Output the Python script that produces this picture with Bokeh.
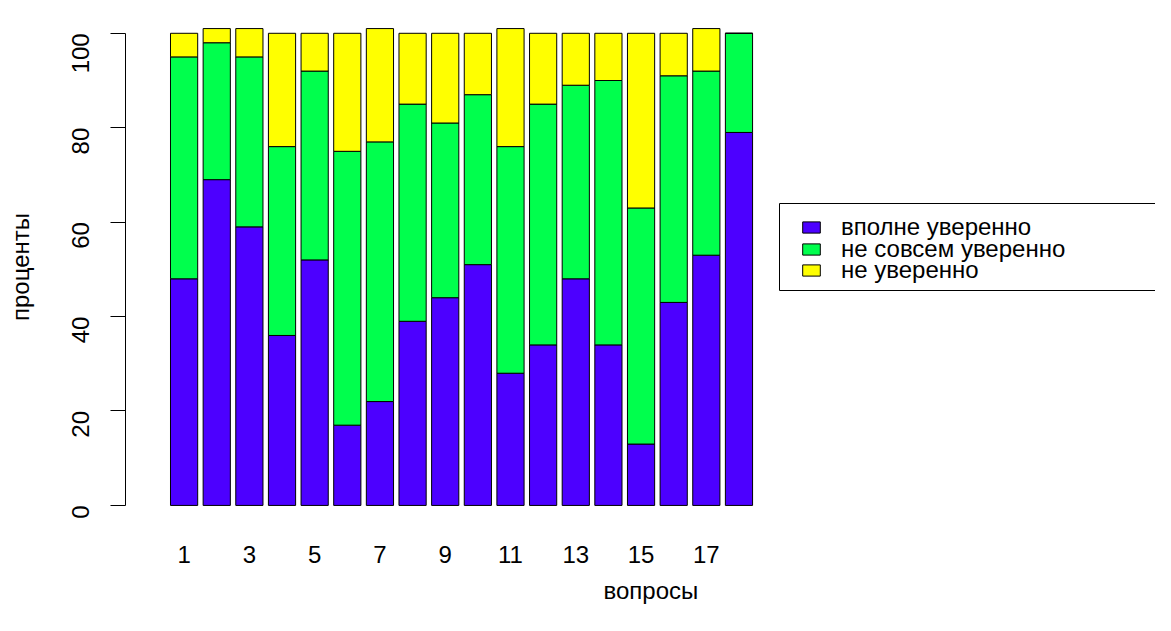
import math
from bokeh.plotting import figure
from bokeh.models import Range1d, FixedTicker, Legend, LegendItem, Title, BoxAnnotation
from bokeh.embed import file_html
from bokeh.resources import INLINE

# ---- data ----
questions = list(range(1, 19))
tick_labels = [1, 3, 5, 7, 9, 11, 13, 15, 17]
series_names = ["вполне уверенно", "не совсем уверенно", "не уверенно"]
fully_sure = [48, 69, 59, 36, 52, 17, 22, 39, 44, 51, 28, 34, 48, 34, 13, 43, 53, 79]
not_quite_sure = [47, 29, 36, 40, 40, 58, 55, 46, 37, 36, 48, 51, 41, 56, 50, 48, 39, 21]
not_sure = [5, 3, 6, 24, 8, 25, 24, 15, 19, 13, 25, 15, 11, 10, 37, 9, 9, 0]
y_ticks = [0, 20, 40, 60, 80, 100]
colors = ["#4C00FF", "#00FF4D", "#FFFF00"]

FONT = "Liberation Sans"

data = dict(q=questions, s1=fully_sure, s2=not_quite_sure, s3=not_sure)

p = figure(width=1155, height=615,
           x_range=Range1d(-0.795, 30.761), y_range=Range1d(-4.04, 105.04),
           output_backend="svg", toolbar_location=None,
           min_border_left=125, min_border_right=0, min_border_top=9, min_border_bottom=91)
p.outline_line_color = None
p.xgrid.visible = False
p.ygrid.visible = False

rs = p.vbar_stack(["s1", "s2", "s3"], x="q", width=1/1.2, source=data,
                  fill_color=colors, line_color="black", line_width=1)

# y axis
ya = p.yaxis[0]
ya.ticker = FixedTicker(ticks=y_ticks)
ya.bounds = (0, 100)
ya.major_tick_out = 15
ya.major_tick_in = 0
ya.minor_tick_line_color = None
ya.axis_line_color = "black"
ya.major_tick_line_color = "black"
ya.major_label_orientation = math.pi / 2
ya.major_label_text_font = FONT
ya.major_label_text_font_size = "24px"
ya.major_label_text_color = "black"
ya.major_label_standoff = 30
ya.axis_label = "проценты"
ya.axis_label_text_font = FONT
ya.axis_label_text_font_size = "24px"
ya.axis_label_text_font_style = "normal"
ya.axis_label_text_color = "black"
ya.axis_label_standoff = 27

# x axis
xa = p.xaxis[0]
xa.ticker = FixedTicker(ticks=tick_labels)
xa.axis_line_color = None
xa.major_tick_line_color = None
xa.minor_tick_line_color = None
xa.major_tick_out = 0
xa.major_tick_in = 0
xa.major_label_text_font = FONT
xa.major_label_text_font_size = "24px"
xa.major_label_text_color = "black"
xa.major_label_standoff = 21

p.add_layout(Title(text="вопросы", align="left", offset=478, standoff=19, text_font=FONT,
                   text_font_size="24px", text_font_style="normal", text_color="black"),
             "below")

box = BoxAnnotation(left=779, right=1300, top=203, bottom=290,
                    left_units="canvas", right_units="canvas",
                    top_units="canvas", bottom_units="canvas",
                    fill_color="white", fill_alpha=1.0,
                    line_color="black", line_width=1, line_alpha=1.0)
p.add_layout(box)

# one legend per row, so rows can be spaced as tightly as in the reference
row_bottoms = [283, 261, 240]
for name, r, yb in zip(series_names, rs, row_bottoms):
    lg = Legend(items=[LegendItem(label=name, renderers=[r])],
                location=(675, yb), orientation="vertical",
                label_text_font=FONT, label_text_font_size="24px", label_text_color="black",
                glyph_width=22, glyph_height=14, label_height=21, spacing=0,
                label_standoff=19, padding=0, margin=0,
                border_line_color=None, background_fill_alpha=0.0)
    p.add_layout(lg, "center")

open("out.html", "w").write(file_html(p, INLINE))
